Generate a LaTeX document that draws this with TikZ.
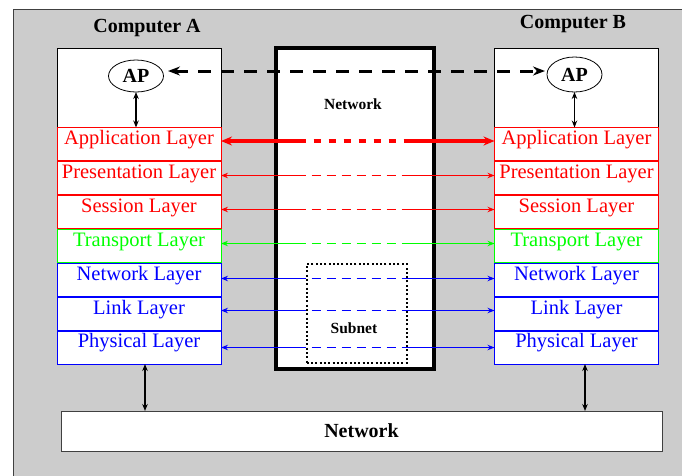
\documentclass[tikz,border=0pt]{standalone}
\usepackage{fontspec}
\setmainfont{Liberation Serif}
\usepackage{tikz}
\usetikzlibrary{shapes.geometric}
\usetikzlibrary{arrows.meta}
\definecolor{figred}{RGB}{255,0,0}
\definecolor{figgreen}{RGB}{0,255,0}
\definecolor{figblue}{RGB}{0,0,255}
\definecolor{figgray}{RGB}{204,204,204}

\begin{document}
\begin{tikzpicture}[x=1pt, y=-1pt, >={Stealth[length=7pt,width=5.5pt]},
    layer/.style={draw=#1, text=#1, fill=white, line width=1pt, minimum width=164pt,
      minimum height=33pt, inner sep=0pt, outer sep=0pt,
      text height=14pt, text depth=14pt, font=\fontsize{20.5}{22}\selectfont},
    whitebox/.style={draw, fill=white, line width=1pt, inner sep=0pt, outer sep=0pt},
    bigtext/.style={font=\fontsize{20}{22}\selectfont\bfseries},
    smalltext/.style={font=\fontsize{15.5}{17}\selectfont\bfseries},
    apnode/.style={ellipse, draw, fill=white, line width=0.8pt, minimum width=55pt,
      minimum height=32pt, inner sep=0pt, outer sep=0pt, bigtext},
    thinarrow/.style={line width=1.2pt},
    thindash/.style={line width=1.2pt, dash pattern=on 9pt off 6pt, dash phase=9pt},
    thickarrow/.style={line width=3.5pt, >={Stealth[length=11pt,width=9pt]}},
    thickdash/.style={line width=3.5pt, dash pattern=on 7pt off 8pt, dash phase=7pt}]
  \useasboundingbox (0,0) rectangle (682,475);
  % background
  \fill[figgray, draw=black!75, line width=1pt] (13,9) rectangle (700,500);
  % computers
  \node[whitebox, minimum width=164pt, minimum height=316pt] (compA) at (139,206) {};
  \node[whitebox, minimum width=164pt, minimum height=316pt] (compB) at (576.5,206) {};
  \node[bigtext] (labA) at (147,28) {Computer A};
  \node[bigtext] (labB) at (573,24) {Computer B};
  \node[apnode] (apA) at (136,76) {AP};
  \node[apnode, minimum height=35pt] (apB) at (574.5,74.5) {AP};
  % layers of A
  \node[layer=figred] (aApp) at (139,144) {Application Layer};
  \node[layer=figred] (aPre) at (139,178) {Presentation Layer};
  \node[layer=figred] (aSes) at (139,212) {Session Layer};
  \node[layer=figgreen] (aTra) at (139,246) {Transport Layer};
  \node[layer=figblue] (aNet) at (139,280) {Network Layer};
  \node[layer=figblue] (aLin) at (139,314) {Link Layer};
  \node[layer=figblue] (aPhy) at (139,347.5) {Physical Layer};
  % layers of B
  \node[layer=figred] (bApp) at (576.5,144) {Application Layer};
  \node[layer=figred] (bPre) at (576.5,178) {Presentation Layer};
  \node[layer=figred] (bSes) at (576.5,212) {Session Layer};
  \node[layer=figgreen] (bTra) at (576.5,246) {Transport Layer};
  \node[layer=figblue] (bNet) at (576.5,280) {Network Layer};
  \node[layer=figblue] (bLin) at (576.5,314) {Link Layer};
  \node[layer=figblue] (bPhy) at (576.5,347.5) {Physical Layer};
  % network in the middle
  \node[whitebox, line width=4pt, minimum width=158.5pt, minimum height=321pt] (mid) at (354.75,208.5) {};
  \node[smalltext] (midlab) at (353,104) {Network};
  \node[draw, line width=2pt, dash pattern=on 2pt off 2.3pt, minimum width=100pt,
    minimum height=99pt, inner sep=0pt] (sub) at (356.7,313.5) {};
  \node[smalltext] (sublab) at (354,328.5) {Subnet};
  % network at the bottom
  \node[whitebox, draw=black!75, minimum width=601pt, minimum height=40pt, bigtext] (net) at (361.5,431) {Network};
  % AP to AP
  \draw[<->, line width=3pt, dash pattern=on 13pt off 10pt, >={Stealth[length=12pt,width=9pt]}]
    ([xshift=4.5pt,yshift=5pt]apA.east) -- ([xshift=-2pt,yshift=3.5pt]apB.west);
  \draw[<->, thinarrow] (apA) -- (apA |- aApp.north);
  \draw[<->, thinarrow] (apB) -- (apB |- bApp.north);
  % application
  \draw[<-, figred, thickarrow] ([yshift=3pt]aApp.east) -- ([yshift=3pt]aApp.east -| sub.west);
  \draw[figred, thickdash] ([yshift=3pt]aApp.east -| sub.west) -- ([yshift=3pt]aApp.east -| sub.east);
  \draw[->, figred, thickarrow] ([yshift=3pt]aApp.east -| sub.east) -- ([yshift=3pt]bApp.west);
  % presentation
  \draw[<-, figred, thinarrow] ([yshift=2.5pt]aPre.east) -- ([yshift=2.5pt]aPre.east -| sub.west);
  \draw[figred, thindash] ([yshift=2.5pt]aPre.east -| sub.west) -- ([yshift=2.5pt]aPre.east -| sub.east);
  \draw[->, figred, thinarrow] ([yshift=2.5pt]aPre.east -| sub.east) -- ([yshift=2.5pt]bPre.west);
  % session
  \draw[<-, figred, thinarrow] ([yshift=2.5pt]aSes.east) -- ([yshift=2.5pt]aSes.east -| sub.west);
  \draw[figred, thindash] ([yshift=2.5pt]aSes.east -| sub.west) -- ([yshift=2.5pt]aSes.east -| sub.east);
  \draw[->, figred, thinarrow] ([yshift=2.5pt]aSes.east -| sub.east) -- ([yshift=2.5pt]bSes.west);
  % transport
  \draw[<-, figgreen, thinarrow] ([yshift=2.5pt]aTra.east) -- ([yshift=2.5pt]aTra.east -| sub.west);
  \draw[figgreen, thindash] ([yshift=2.5pt]aTra.east -| sub.west) -- ([yshift=2.5pt]aTra.east -| sub.east);
  \draw[->, figgreen, thinarrow] ([yshift=2.5pt]aTra.east -| sub.east) -- ([yshift=2.5pt]bTra.west);
  % network
  \draw[<-, figblue, thinarrow] ([yshift=1.5pt]aNet.east) -- ([yshift=1.5pt]aNet.east -| sub.west);
  \draw[figblue, thindash] ([yshift=1.5pt]aNet.east -| sub.west) -- ([yshift=1.5pt]aNet.east -| sub.east);
  \draw[->, figblue, thinarrow] ([yshift=1.5pt]aNet.east -| sub.east) -- ([yshift=1.5pt]bNet.west);
  % link
  \draw[<-, figblue, thinarrow] ([yshift=3.5pt]aLin.east) -- ([yshift=3.5pt]aLin.east -| sub.west);
  \draw[figblue, thindash] ([yshift=3.5pt]aLin.east -| sub.west) -- ([yshift=3.5pt]aLin.east -| sub.east);
  \draw[->, figblue, thinarrow] ([yshift=3.5pt]aLin.east -| sub.east) -- ([yshift=3.5pt]bLin.west);
  % physical
  \draw[<-, figblue, thinarrow] (aPhy.east) -- (aPhy.east -| sub.west);
  \draw[figblue, thindash] (aPhy.east -| sub.west) -- (aPhy.east -| sub.east);
  \draw[->, figblue, thinarrow] (aPhy.east -| sub.east) -- (bPhy.west);
  % down to the network
  \draw[<->, thinarrow] ([xshift=6pt]aPhy.south) -- ([xshift=6pt]aPhy.south |- net.north);
  \draw[<->, thinarrow] ([xshift=8.5pt]bPhy.south) -- ([xshift=8.5pt]bPhy.south |- net.north);
\end{tikzpicture}
\end{document}
